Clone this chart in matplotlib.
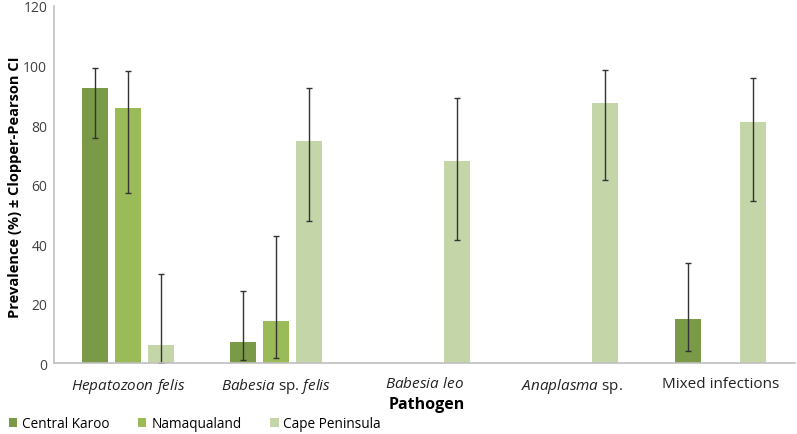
import matplotlib
matplotlib.use("Agg")
import matplotlib.pyplot as plt
import numpy as np

plt.rcParams['font.family'] = ['Open Sans', 'DejaVu Sans']
plt.rcParams['mathtext.fontset'] = 'custom'
plt.rcParams['mathtext.rm'] = 'Open Sans'
plt.rcParams['mathtext.it'] = 'Open Sans:italic'

# categories (mathtext used for the italic species names)
categories = [r"$\mathit{Hepatozoon\ felis}$",
              r"$\mathit{Babesia}$ sp. $\mathit{felis}$",
              r"$\mathit{Babesia\ leo}$",
              r"$\mathit{Anaplasma}$ sp.",
              "Mixed infections"]
regions = ["Central Karoo", "Namaqualand", "Cape Peninsula"]

# prevalence (%) and Clopper-Pearson limits, nan = not shown
central_karoo = [92.4, 7.2, np.nan, np.nan, 14.7]
central_karoo_lo = [75.6, 0.9, np.nan, np.nan, 4.1]
central_karoo_hi = [99.0, 24.3, np.nan, np.nan, 33.6]

namaqualand = [85.6, 14.1, np.nan, np.nan, np.nan]
namaqualand_lo = [57.1, 1.8, np.nan, np.nan, np.nan]
namaqualand_hi = [98.3, 42.8, np.nan, np.nan, np.nan]

cape_peninsula = [6.2, 74.7, 67.8, 87.3, 81.1]
cape_peninsula_lo = [0.0, 47.8, 41.2, 61.5, 54.4]
cape_peninsula_hi = [30.1, 92.5, 89.0, 98.4, 95.9]

colors = ["#7a9a48", "#9bbb59", "#c4d6a8"]

fig = plt.figure(figsize=(7.97, 4.35), dpi=100)
ax = fig.add_axes([0.068, 0.163, 0.929, 0.821])

x = np.arange(len(categories))
offs = [-0.222, 0.0, 0.222]
width = 0.175
series = [(central_karoo, central_karoo_lo, central_karoo_hi),
          (namaqualand, namaqualand_lo, namaqualand_hi),
          (cape_peninsula, cape_peninsula_lo, cape_peninsula_hi)]

handles = []
for i, (vals, lo, hi) in enumerate(series):
    vals = np.array(vals)
    lo = np.array(lo)
    hi = np.array(hi)
    h = ax.bar(x + offs[i], np.nan_to_num(vals), width, color=colors[i], label=regions[i])
    handles.append(h)
    ok = ~np.isnan(vals)
    ax.errorbar(x[ok] + offs[i], vals[ok],
                yerr=[vals[ok] - lo[ok], hi[ok] - vals[ok]],
                fmt='none', ecolor='#333333', elinewidth=1.0, capsize=2.5, capthick=1.0)

ax.set_xlim(-0.5, 4.5)
ax.set_ylim(0, 120)
ax.set_yticks(range(0, 121, 20))
ax.set_xticks(x)
ax.set_xticklabels(categories, fontsize=11, color='#222222')
ax.tick_params(axis='both', length=0)
ax.tick_params(axis='y', labelsize=10, colors='#404040', pad=5)
ax.tick_params(axis='x', pad=9)

for s in ['top', 'right']:
    ax.spines[s].set_visible(False)
ax.spines['left'].set_color('#bfbfbf')
ax.spines['bottom'].set_color('#bfbfbf')
ax.spines['left'].set_linewidth(1.2)
ax.spines['bottom'].set_linewidth(1.2)

ax.set_ylabel("Prevalence (%) ± Clopper-Pearson CI", fontsize=10.5, fontweight='bold')
ax.yaxis.set_label_coords(-0.043, 0.496)
fig.text(0.536, 0.069, "Pathogen", ha='center', va='center', fontsize=11.5, fontweight='bold')

fig.legend(handles=handles, labels=regions, loc='center left', bbox_to_anchor=(0.011, 0.023),
           ncol=3, frameon=False, fontsize=9.8, handlelength=0.62, handleheight=0.62,
           handletextpad=0.35, columnspacing=2.1, borderaxespad=0, borderpad=0)

fig.savefig("out.png", dpi=100)
